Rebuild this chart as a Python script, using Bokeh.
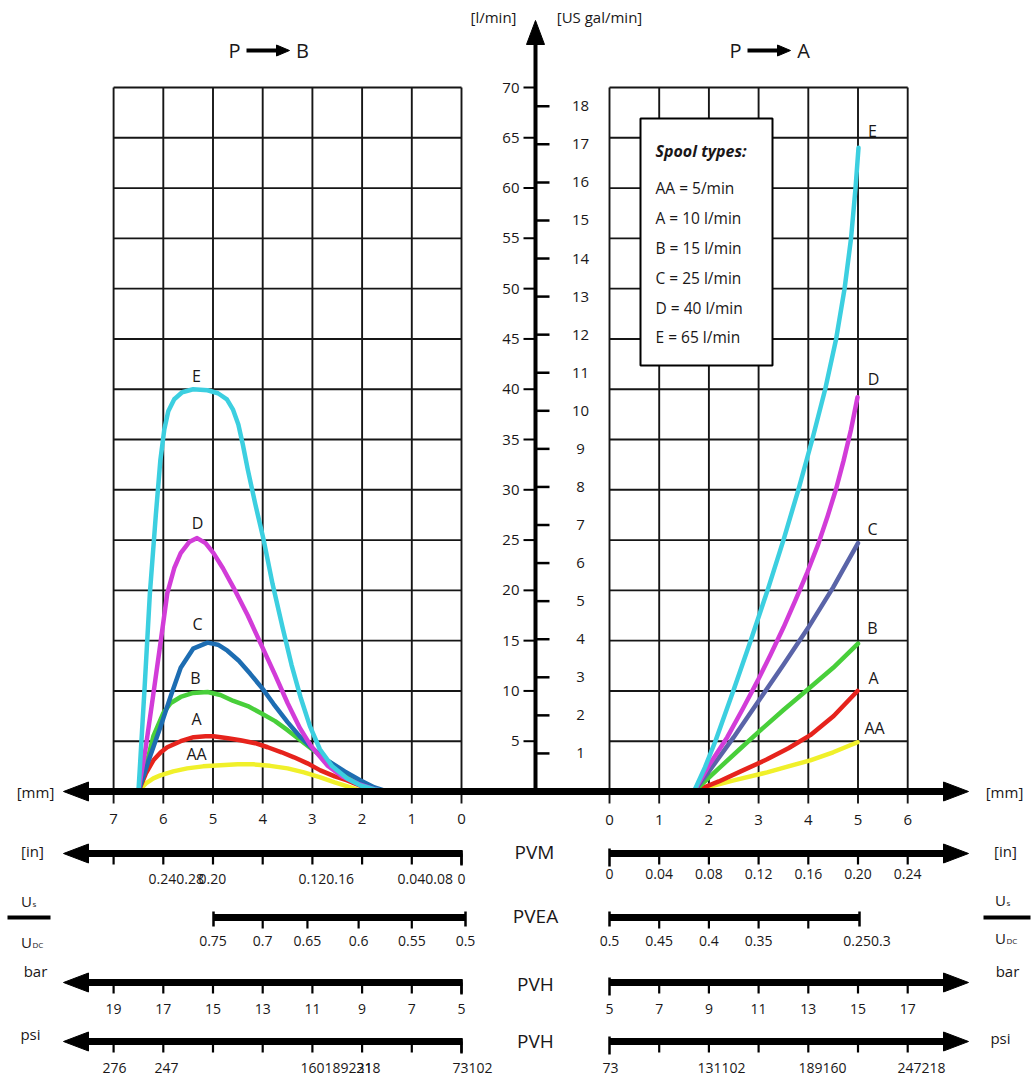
from bokeh.plotting import figure
from bokeh.models import Range1d
from bokeh.core.properties import value
from bokeh.embed import file_html
from bokeh.resources import INLINE

# ---------------------------------------------------------------- data
SPOOL_LEGEND = ["AA = 5/min", "A = 10 l/min", "B = 15 l/min",
                "C = 25 l/min", "D = 40 l/min", "E = 65 l/min"]

# P -> B  (left panel): spool stroke [mm] vs flow [l/min]
PB_E_MM = [6.50, 6.38, 6.27, 6.15, 6.06, 5.98, 5.90, 5.78, 5.62, 5.40, 5.11, 4.90, 4.72, 4.60, 4.49, 4.40,
           4.30, 4.15, 3.98, 3.80, 3.60, 3.42, 3.24, 3.05, 2.85, 2.60, 2.30, 2.03, 1.75, 1.45]
PB_E_Q = [0.0, 10.0, 19.7, 27.5, 32.9, 36.0, 37.8, 39.0, 39.7, 40.0, 39.9, 39.6, 39.0, 38.0, 36.5, 34.5,
          32.0, 28.6, 25.0, 20.6, 16.3, 12.6, 9.4, 6.5, 4.2, 2.5, 1.3, 0.6, 0.2, 0.0]
PB_D_MM = [6.50, 6.35, 6.20, 6.05, 5.92, 5.78, 5.65, 5.48, 5.32, 5.15, 4.99, 4.80, 4.59, 4.30, 4.04, 3.76,
           3.50, 3.25, 3.04, 2.70, 2.40, 2.05, 1.75, 1.50]
PB_D_Q = [0.0, 4.5, 9.7, 15.0, 19.7, 22.2, 23.7, 24.8, 25.2, 24.7, 23.7, 22.2, 20.3, 17.5, 14.7, 11.7,
          8.8, 6.3, 4.6, 2.6, 1.5, 0.7, 0.2, 0.0]
PB_C_MM = [6.50, 6.30, 6.06, 5.85, 5.65, 5.40, 5.11, 4.90, 4.71, 4.48, 4.25, 4.00, 3.78, 3.50, 3.24, 2.98,
           2.70, 2.35, 2.03, 1.75, 1.50]
PB_C_Q = [0.0, 3.0, 6.4, 9.5, 12.3, 14.2, 14.8, 14.6, 14.0, 13.0, 11.7, 10.2, 8.7, 6.9, 5.4, 4.2,
          3.1, 2.0, 1.1, 0.4, 0.0]
PB_B_MM = [6.50, 6.40, 6.32, 6.20, 6.00, 5.85, 5.65, 5.40, 5.11, 4.85, 4.59, 4.30, 4.04, 3.75, 3.50, 3.24,
           2.98, 2.70, 2.43, 2.15, 1.85, 1.55]
PB_B_Q = [0.0, 1.8, 3.1, 5.5, 7.8, 8.8, 9.4, 9.8, 9.9, 9.6, 9.0, 8.5, 7.8, 7.0, 6.1, 5.1,
          4.1, 3.1, 2.1, 1.2, 0.5, 0.0]
PB_A_MM = [6.50, 6.35, 6.20, 6.05, 5.92, 5.65, 5.39, 5.15, 4.99, 4.70, 4.45, 4.15, 3.90, 3.62, 3.37, 3.10,
           2.84, 2.55, 2.30, 2.00, 1.75]
PB_A_Q = [0.0, 1.8, 3.1, 3.9, 4.4, 5.0, 5.4, 5.5, 5.5, 5.3, 5.1, 4.8, 4.4, 3.9, 3.4, 2.8,
          2.1, 1.5, 1.1, 0.5, 0.0]
PB_AA_MM = [6.50, 6.35, 6.20, 6.06, 5.80, 5.52, 5.20, 4.85, 4.50, 4.19, 3.85, 3.50, 3.17, 2.84, 2.55,
            2.23, 2.05]
PB_AA_Q = [0.0, 0.8, 1.3, 1.6, 2.0, 2.3, 2.5, 2.6, 2.7, 2.7, 2.55, 2.3, 1.9, 1.4, 0.9, 0.4, 0.1]

# P -> A  (right panel)
PA_E_MM = [1.70, 1.92, 2.13, 2.49, 2.84, 3.18, 3.50, 3.80, 4.08, 4.34, 4.56, 4.73, 4.86, 4.95, 5.01]
PA_E_Q = [0.0, 2.4, 5.0, 10.0, 15.0, 20.0, 25.0, 30.0, 35.0, 40.0, 45.0, 50.0, 55.0, 60.0, 64.0]
PA_D_MM = [1.70, 2.00, 2.37, 2.68, 2.98, 3.24, 3.50, 3.74, 3.98, 4.20, 4.39, 4.56, 4.71, 4.86, 4.99]
PA_D_Q = [0.0, 2.6, 5.4, 8.2, 11.0, 13.6, 16.3, 19.0, 21.8, 24.6, 27.4, 30.1, 32.9, 36.0, 39.2]
PA_C_MM = [1.70, 2.00, 2.50, 3.00, 3.50, 4.00, 4.50, 5.00]
PA_C_Q = [0.0, 2.0, 5.4, 9.0, 12.6, 16.3, 20.3, 24.7]
PA_B_MM = [1.70, 2.20, 2.64, 3.04, 3.50, 4.00, 4.50, 5.00]
PA_B_Q = [0.0, 2.3, 4.3, 6.1, 8.1, 10.2, 12.3, 14.7]
PA_A_MM = [1.70, 2.20, 2.64, 3.17, 3.60, 4.04, 4.51, 4.99]
PA_A_Q = [0.0, 1.0, 2.0, 3.2, 4.3, 5.6, 7.5, 10.0]
PA_AA_MM = [1.70, 2.10, 2.50, 3.17, 3.60, 4.04, 4.50, 4.99]
PA_AA_Q = [0.0, 0.6, 1.1, 1.9, 2.5, 3.1, 3.9, 4.9]

# axis tick values / labels
LPM_TICKS = [5, 10, 15, 20, 25, 30, 35, 40, 45, 50, 55, 60, 65, 70]
GAL_TICKS = list(range(1, 19))
MM_LEFT = [7, 6, 5, 4, 3, 2, 1, 0]
MM_RIGHT = [0, 1, 2, 3, 4, 5, 6]
IN_RIGHT = ["0", "0.04", "0.08", "0.12", "0.16", "0.20", "0.24"]
IN_LEFT = ["0.240.28", "0.20", "0.120.16", "0.040.08", "0"]
PVEA_LEFT = ["0.75", "0.7", "0.65", "0.6", "0.55", "0.5"]
PVEA_LEFT_MM = [5.0, 4.0, 3.1, 2.07, 1.0, -0.08]
PVEA_RIGHT = ["0.5", "0.45", "0.4", "0.35", "0.250.3"]
BAR_LEFT = ["19", "17", "15", "13", "11", "9", "7", "5"]
BAR_RIGHT = ["5", "7", "9", "11", "13", "15", "17"]
PSI_LEFT = ["276", "247", "160189231", "218", "73102"]
PSI_RIGHT = ["73", "131102", "189160", "247218"]

# ---------------------------------------------------------------- layout
FONT = "Open Sans"
TXT = "#1a1718"
W, H = 1034, 1085
L0_PX, R0_PX, MM_PX = 461.0, 609.0, 49.7
Y0_PX, LPM_PX, GAL = 791.0, 10.057, 3.78541
AX_X = 535.0

p = figure(width=W, height=H, x_range=Range1d(0, W), y_range=Range1d(H, 0),
           output_backend="svg", toolbar_location=None, min_border=0,
           x_axis_location=None, y_axis_location=None, outline_line_color=None,
           background_fill_color="white", border_fill_color="white")
p.grid.visible = False
p.extra_x_ranges = {
    "lmm": Range1d(L0_PX / MM_PX, -(W - L0_PX) / MM_PX),
    "rmm": Range1d(-R0_PX / MM_PX, (W - R0_PX) / MM_PX),
}
p.extra_y_ranges = {
    "lpm": Range1d(-(H - Y0_PX) / LPM_PX, Y0_PX / LPM_PX),
    "gal": Range1d(-(H - Y0_PX) / LPM_PX / GAL, Y0_PX / LPM_PX / GAL),
}

GRID = "#161616"


def text(xs, ys, texts, size=14, align="center", baseline="middle", style="normal", **kw):
    p.text(x=xs, y=ys, text=texts, text_font=value(FONT), text_font_size=f"{size}px",
           text_align=align, text_baseline=baseline, text_color=TXT,
           text_font_style=style, **kw)


# ---------------- grids
top = LPM_TICKS[-1]
p.segment(x0=MM_LEFT, x1=MM_LEFT, y0=[top] * len(MM_LEFT), y1=[-1.2] * len(MM_LEFT),
          x_range_name="lmm", y_range_name="lpm", line_color=GRID, line_width=1.9)
p.segment(x0=[MM_LEFT[0]] * len(LPM_TICKS), x1=[MM_LEFT[-1]] * len(LPM_TICKS), y0=LPM_TICKS, y1=LPM_TICKS,
          x_range_name="lmm", y_range_name="lpm", line_color=GRID, line_width=1.9)
p.segment(x0=MM_RIGHT, x1=MM_RIGHT, y0=[top] * len(MM_RIGHT), y1=[-1.2] * len(MM_RIGHT),
          x_range_name="rmm", y_range_name="lpm", line_color=GRID, line_width=1.9)
p.segment(x0=[MM_RIGHT[0]] * len(LPM_TICKS), x1=[MM_RIGHT[-1]] * len(LPM_TICKS), y0=LPM_TICKS, y1=LPM_TICKS,
          x_range_name="rmm", y_range_name="lpm", line_color=GRID, line_width=1.9)

# ---------------- legend box
p.quad(left=[640], right=[772], top=[118], bottom=[365], fill_color="white",
       line_color="black", line_width=2)
text([655], [150], ["Spool types:"], size=16, align="left", style="bold italic")
text([655] * 6, [187, 217, 247, 277, 307, 336], SPOOL_LEGEND, size=15.5, align="left")

# ---------------- curves
COL = {"E": "#3ccfe0", "D": "#d23cd8", "CL": "#1d6db2", "CR": "#5a64a8",
       "B": "#48cf3a", "A": "#e6231c", "AA": "#f0f02a"}
left_curves = [(PB_AA_MM, PB_AA_Q, COL["AA"]), (PB_A_MM, PB_A_Q, COL["A"]), (PB_B_MM, PB_B_Q, COL["B"]),
               (PB_C_MM, PB_C_Q, COL["CL"]), (PB_D_MM, PB_D_Q, COL["D"]), (PB_E_MM, PB_E_Q, COL["E"])]
right_curves = [(PA_AA_MM, PA_AA_Q, COL["AA"]), (PA_A_MM, PA_A_Q, COL["A"]), (PA_B_MM, PA_B_Q, COL["B"]),
                (PA_C_MM, PA_C_Q, COL["CR"]), (PA_D_MM, PA_D_Q, COL["D"]), (PA_E_MM, PA_E_Q, COL["E"])]
for xs, ys, c in left_curves:
    p.line(x=xs, y=ys, x_range_name="lmm", y_range_name="lpm", line_color=c, line_width=4.5,
           line_join="round", line_cap="round")
for xs, ys, c in right_curves:
    p.line(x=xs, y=ys, x_range_name="rmm", y_range_name="lpm", line_color=c, line_width=4.5,
           line_join="round", line_cap="round")

# curve letters
text([196, 197, 197, 195, 196, 196], [375, 522, 623, 677, 718, 753],
     ["E", "D", "C", "B", "A", "AA"], size=16)
text([872, 873, 872, 872, 873, 874], [130, 378, 528, 627, 677, 727],
     ["E", "D", "C", "B", "A", "AA"], size=16)

# ---------------- arrows / axes
heads_x, heads_y = [], []


def head(tx, ty, d, length=25, half=9.5):
    if d == "left":
        heads_x.append([tx, tx + length, tx + length]); heads_y.append([ty, ty - half, ty + half])
    elif d == "right":
        heads_x.append([tx, tx - length, tx - length]); heads_y.append([ty, ty - half, ty + half])
    else:
        heads_x.append([tx, tx - half, tx + half]); heads_y.append([ty, ty + length, ty + length])


# main mm axis
p.segment(x0=[86], x1=[945], y0=[Y0_PX], y1=[Y0_PX], line_color="black", line_width=7)
head(63, Y0_PX, "left"); head(968, Y0_PX, "right")
# vertical flow axis
p.segment(x0=[AX_X], x1=[AX_X], y0=[Y0_PX], y1=[42], line_color="black", line_width=4)
head(AX_X, 20, "up", length=24, half=9)
p.segment(x0=[523] * len(LPM_TICKS), x1=[AX_X] * len(LPM_TICKS), y0=LPM_TICKS, y1=LPM_TICKS,
          y_range_name="lpm", line_color="black", line_width=2)
text([519] * len(LPM_TICKS), LPM_TICKS, [str(v) for v in LPM_TICKS], size=15, align="right",
     y_range_name="lpm")
p.segment(x0=[AX_X] * len(GAL_TICKS), x1=[549] * len(GAL_TICKS), y0=GAL_TICKS, y1=GAL_TICKS,
          y_range_name="gal", line_color="black", line_width=2.5)
text([580] * len(GAL_TICKS), GAL_TICKS, [str(v) for v in GAL_TICKS], size=15, y_range_name="gal")
text([493], [16], ["[l/min]"], size=15)
text([599], [16], ["[US gal/min]"], size=15)

# mm tick labels
text(MM_LEFT, [818] * len(MM_LEFT), [str(v) for v in MM_LEFT], size=15, x_range_name="lmm")
text(MM_RIGHT, [819] * len(MM_RIGHT), [str(v) for v in MM_RIGHT], size=15, x_range_name="rmm")
text([35, 1004], [791, 791], ["[mm]", "[mm]"], size=15)

# P -> B / P -> A
for px0, lab in [(234, "B"), (735, "A")]:
    text([px0, px0 + 68], [50, 50], ["P", lab], size=20)
    p.segment(x0=[px0 + 12], x1=[px0 + 45], y0=[50], y1=[50], line_color="black", line_width=4)
    head(px0 + 55, 50, "right", length=13, half=5.5)

ROW_IN, ROW_PVEA, ROW_BAR, ROW_PSI = 853.0, 917.0, 982.0, 1041.0

# three arrowed rows (in / bar / psi)
for ry in [ROW_IN, ROW_BAR, ROW_PSI]:
    p.segment(x0=[86, R0_PX], x1=[L0_PX + 1, 945], y0=[ry, ry], y1=[ry, ry], line_color="black", line_width=7)
    head(63, ry, "left"); head(968, ry, "right")
    p.segment(x0=MM_LEFT, x1=MM_LEFT, y0=[ry] * 8, y1=[ry + 11] * 8, x_range_name="lmm",
              line_color="black", line_width=2.2)
    p.segment(x0=MM_RIGHT[1:], x1=MM_RIGHT[1:], y0=[ry] * 6, y1=[ry + 11] * 6, x_range_name="rmm",
              line_color="black", line_width=2.2)
    p.segment(x0=[0], x1=[0], y0=[ry - 5], y1=[ry + 13], x_range_name="rmm", line_color="black", line_width=2.5)
    p.segment(x0=[0], x1=[0], y0=[ry - 3], y1=[ry + 12], x_range_name="lmm", line_color="black", line_width=2.5)

# PVEA bars
p.segment(x0=[213, R0_PX], x1=[465, 859], y0=[ROW_PVEA] * 2, y1=[ROW_PVEA] * 2, line_color="black", line_width=7)
p.segment(x0=[213, 465, R0_PX, 859], x1=[213, 465, R0_PX, 859], y0=[ROW_PVEA - 6] * 4, y1=[ROW_PVEA + 9] * 4,
          line_color="black", line_width=2.5)
p.segment(x0=PVEA_LEFT_MM[1:-1], x1=PVEA_LEFT_MM[1:-1], y0=[ROW_PVEA] * 4, y1=[ROW_PVEA + 11] * 4,
          x_range_name="lmm", line_color="black", line_width=2.2)
p.segment(x0=[1, 2, 3, 4], x1=[1, 2, 3, 4], y0=[ROW_PVEA] * 4, y1=[ROW_PVEA + 11] * 4,
          x_range_name="rmm", line_color="black", line_width=2.2)

# row names and units
text([534, 535, 535, 535], [851, 915, 983, 1040], ["PVM", "PVEA", "PVH", "PVH"], size=19)
text([32, 1005, 35, 1007, 30, 1000], [850, 850, 970, 970, 1033, 1037],
     ["[in]", "[in]", "bar", "bar", "psi", "psi"], size=15)

# Us / UDC symbols
for ux, uy_top, uy_bot, bx0, bx1 in [(26, 900, 941, 7, 50), (1000, 899, 937, 983, 1030)]:
    text([ux, ux], [uy_top, uy_bot], ["U", "U"], size=15)
    text([ux + 6], [uy_top + 3], ["s"], size=8, align="left")
    text([ux + 6], [uy_bot + 3], ["DC"], size=8, align="left")
    p.segment(x0=[bx0], x1=[bx1], y0=[917], y1=[917], line_color="black", line_width=4)

# tick labels of lower scales
text([148, 198, 298, 397], [878] * 4, IN_LEFT[:4], size=14, align="left")
text([0], [878], [IN_LEFT[4]], size=14, x_range_name="lmm")
text(MM_RIGHT, [873] * 7, IN_RIGHT, size=14, x_range_name="rmm")
text(PVEA_LEFT_MM, [940] * 6, PVEA_LEFT, size=14, x_range_name="lmm")
text([0, 1, 2, 3, 5.18], [940] * 5, PVEA_RIGHT, size=14, x_range_name="rmm")
text(MM_LEFT, [1008] * 8, BAR_LEFT, size=14, x_range_name="lmm")
text(MM_RIGHT, [1008] * 7, BAR_RIGHT, size=14, x_range_name="rmm")
text([114, 166], [1067] * 2, PSI_LEFT[:2], size=14)
text([300, 356, 452], [1067] * 3, PSI_LEFT[2:], size=14, align="left")
text([610], [1067], PSI_RIGHT[:1], size=14)
text([697, 798, 897], [1067] * 3, PSI_RIGHT[1:], size=14, align="left")

p.patches(xs=heads_x, ys=heads_y, fill_color="black", line_color="black", line_width=1)

open("out.html", "w").write(file_html(p, INLINE))
